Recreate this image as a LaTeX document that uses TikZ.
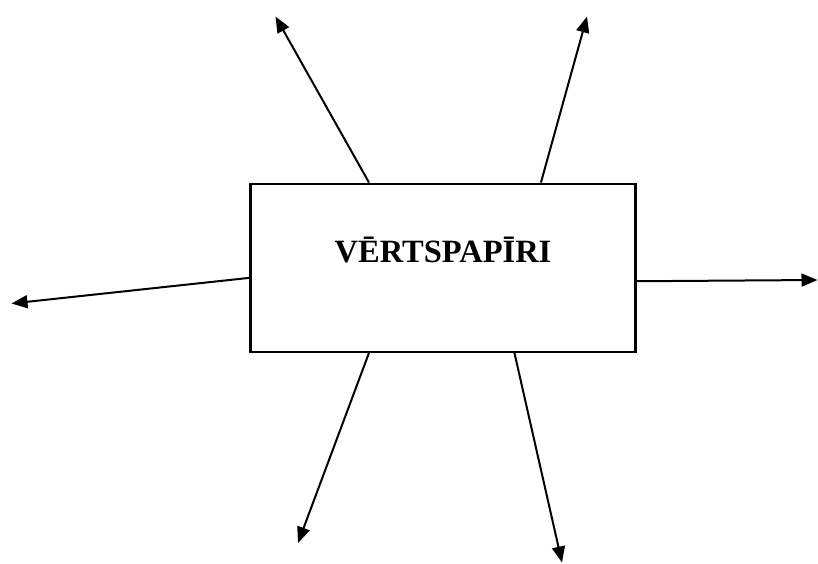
\documentclass[tikz,border=0pt]{standalone}
\usepackage{fontspec}
\setmainfont{Liberation Serif}
\usetikzlibrary{arrows.meta}

\tikzset{
  spoke/.style={-{Triangle[length=16pt,width=13pt]}, line width=2pt},
}

\begin{document}
\begin{tikzpicture}[x=1pt,y=-1pt]
\useasboundingbox (0,0) rectangle (818,564);
\node[draw, line width=2.2pt, minimum width=385pt, minimum height=168pt, inner sep=0pt] (box) at (443,267.7) {};
\node[font=\fontsize{32.5}{38}\selectfont\bfseries, anchor=base] (title) at (443,262) {VĒRTSPAPĪRI};
% arrow tips
\coordinate (nw) at (275.5,16.5);
\coordinate (ne) at (587,16.5);
\coordinate (w) at (11.5,303.5);
\coordinate (e) at (817.5,280);
\coordinate (sw) at (298,543);
\coordinate (se) at (562,562.5);
\draw[spoke] (box.131) -- (nw);
\draw[spoke] (box.41.2) -- (ne);
\draw[spoke] (box.183.7) -- (w);
\draw[spoke] (box.356.5) -- (e);
\draw[spoke] (box.229.4) -- (sw);
\draw[spoke] (box.310.6) -- (se);
\end{tikzpicture}
\end{document}
